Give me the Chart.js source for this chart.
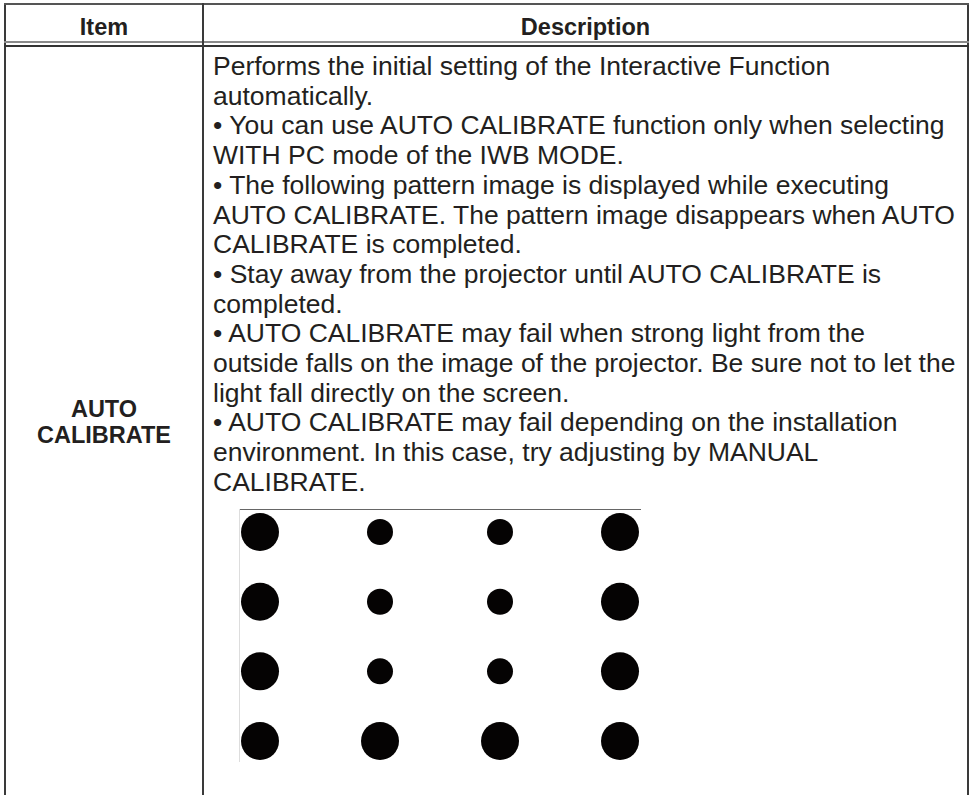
<!doctype html>
<html>
<head>
<title>AUTO CALIBRATE</title>
<script src="https://cdn.jsdelivr.net/npm/chart.js@4/dist/chart.umd.min.js"></script>
<style>
	body {
		margin: 0;
		background: #fff;
		font-family: "Liberation Sans", Arial, sans-serif;
		color: #231f20;
	}
	.abs { position: absolute; }
	.hline { position: absolute; left: 4px; width: 965px; }
	.head {
		position: absolute;
		top: 14px;
		font-weight: bold;
		font-size: 23.5px;
		line-height: 26px;
		text-align: center;
	}
	.label {
		position: absolute;
		left: 6px;
		width: 196px;
		top: 396px;
		font-weight: bold;
		font-size: 23.5px;
		line-height: 26px;
		text-align: center;
	}
	.desc {
		position: absolute;
		left: 213px;
		top: 52px;
		font-size: 26.5px;
		line-height: 29.7px;
		white-space: nowrap;
	}
	#pattern {
		position: absolute;
		left: 240px;
		top: 510px;
		width: 401px;
		height: 252px;
	}
</style>
</head>

<body>
	<!-- table frame -->
	<div class="abs" style="left:4px; top:3px; width:2px; height:800px; background:#3a3a3a;"></div>
	<div class="abs" style="left:967px; top:3px; width:2px; height:800px; background:#3a3a3a;"></div>
	<div class="hline" style="top:3px; height:2px; background:#555;"></div>
	<div class="hline" style="top:41px; height:2px; background:#8a8a8a;"></div>
	<div class="hline" style="top:45px; height:2px; background:#333;"></div>
	<div class="abs" style="left:202px; top:3px; width:2px; height:800px; background:#3a3a3a;"></div>

	<div class="head" style="left:6px; width:196px;">Item</div>
	<div class="head" style="left:204px; width:763px;">Description</div>

	<div class="label">AUTO<br>CALIBRATE</div>

	<div class="desc" id="desc"></div>

	<!-- pattern image borders -->
	<div class="abs" style="left:239px; top:509px; width:402px; height:1px; background:#666;"></div>
	<div class="abs" style="left:239px; top:509px; width:1px; height:253px; background:#ddd;"></div>
	<div id="pattern"><canvas id="canvas"></canvas></div>

	<script>
		var descLines = [
			'Performs the initial setting of the Interactive Function',
			'automatically.',
			'\u2022 You can use AUTO CALIBRATE function only when selecting',
			'WITH PC mode of the IWB MODE.',
			'\u2022 The following pattern image is displayed while executing',
			'AUTO CALIBRATE. The pattern image disappears when AUTO',
			'CALIBRATE is completed.',
			'\u2022 Stay away from the projector until AUTO CALIBRATE is',
			'completed.',
			'\u2022 AUTO CALIBRATE may fail when strong light from the',
			'outside falls on the image of the projector. Be sure not to let the',
			'light fall directly on the screen.',
			'\u2022 AUTO CALIBRATE may fail depending on the installation',
			'environment. In this case, try adjusting by MANUAL',
			'CALIBRATE.'
		];

		// dot pattern: columns, rows and dot kind per row
		var columns = [1, 2, 3, 4];
		var rows = [1, 2, 3, 4];
		var row1 = ['L', 'S', 'S', 'L'];
		var row2 = ['L', 'S', 'S', 'L'];
		var row3 = ['L', 'S', 'S', 'L'];
		var row4 = ['L', 'L', 'L', 'L'];

		document.getElementById('desc').innerHTML = descLines.map(function(l) {
			return '<div>' + l + '</div>';
		}).join('');

		var radius = { L: 19, S: 13 };
		var points = [];
		[row1, row2, row3, row4].forEach(function(kinds, i) {
			kinds.forEach(function(k, j) {
				points.push({ x: columns[j], y: rows[i], r: radius[k] });
			});
		});

		var config = {
			type: 'bubble',
			data: {
				datasets: [{
					data: points,
					backgroundColor: '#050303',
					borderColor: '#050303',
					borderWidth: 0,
					clip: false
				}]
			},
			options: {
				responsive: true,
				maintainAspectRatio: false,
				animation: false,
				layout: { padding: 0, autoPadding: false },
				plugins: {
					legend: { display: false },
					tooltip: { enabled: false }
				},
				scales: {
					x: { type: 'linear', display: false, min: 0.8333, max: 4.175 },
					y: { type: 'linear', display: false, reverse: true, min: 0.684, max: 4.301 }
				}
			}
		};

		window.onload = function() {
			var ctx = document.getElementById('canvas').getContext('2d');
			window.myChart = new Chart(ctx, config);
		};
	</script>
</body>

</html>
